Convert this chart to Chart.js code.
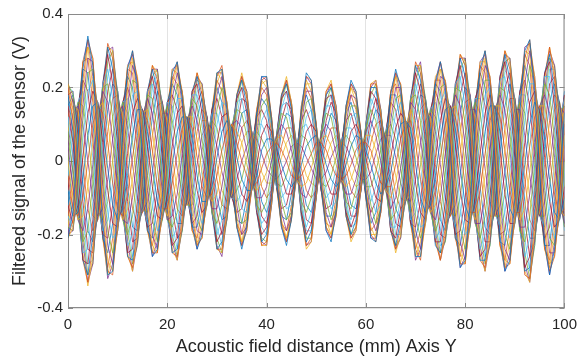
<!DOCTYPE html>
<html>
<head>
<meta charset="utf-8">
<script src="https://cdn.jsdelivr.net/npm/chart.js@4.4.1/dist/chart.umd.min.js"></script>
<style>
  html, body { margin: 0; padding: 0; background: #fff; }
  #wrap { width: 585px; height: 360px; }
</style>
</head>
<body>
<div id="wrap"><canvas id="sensorChart" width="585" height="360"></canvas></div>
<script>
// distance along axis Y (mm)
const distance = [0,1,2,3,4,5,6,7,8,9,10,11,12,13,14,15,16,17,18,19,20,21,22,23,24,25,26,27,28,29,30,31,32,33,34,35,36,37,38,39,40,41,42,43,44,45,46,47,48,49,50,
  51,52,53,54,55,56,57,58,59,60,61,62,63,64,65,66,67,68,69,70,71,72,73,74,75,76,77,78,79,80,81,82,83,84,85,86,87,88,89,90,91,92,93,94,95,96,97,98,99,100];

const xTickLabels = ['0', '20', '40', '60', '80', '100'];
const yTickLabels = ['-0.4', '-0.2', '0', '0.2', '0.4'];

// filtered sensor signal (V), one trace per acquisition
const trace1 = [-.21,-.14,.05,.25,.34,.26,.05,-.17,-.31,-.30,-.14,.07,.25,.30,.20,.02,-.16,-.26,-.24,-.10,.09,.24,.27,.17,-.01,-.17,-.24,-.20,-.07,.11,
  .24,.25,.14,-.03,-.18,-.24,-.18,-.04,.12,.23,.23,.11,-.05,-.18,-.23,-.16,-.02,.14,.24,.22,.09,-.07,-.19,-.22,-.14,.00,.15,.22,.19,.07,
  -.09,-.21,-.22,-.13,.03,.18,.25,.20,.05,-.13,-.26,-.26,-.13,.05,.21,.27,.20,.03,-.17,-.29,-.27,-.12,.09,.25,.30,.20,.00,-.20,-.30,-.27,
  -.10,.13,.30,.33,.19,-.03,-.22,-.31,-.24,-.07,.13];
const trace2 = [-.21,-.18,-.01,.19,.31,.28,.10,-.11,-.27,-.30,-.18,.01,.19,.28,.23,.07,-.11,-.23,-.25,-.14,.04,.20,.26,.19,.04,-.12,-.22,-.21,-.10,.07,
  .21,.25,.16,.01,-.15,-.22,-.19,-.07,.09,.21,.22,.12,-.03,-.16,-.21,-.16,-.04,.12,.21,.21,.10,-.05,-.16,-.20,-.15,-.02,.12,.20,.18,.08,
  -.07,-.18,-.21,-.14,.00,.14,.23,.21,.09,-.08,-.22,-.26,-.17,.00,.17,.25,.22,.09,-.11,-.25,-.28,-.16,.03,.20,.28,.23,.06,-.14,-.27,-.28,
  -.15,.06,.25,.32,.23,.03,-.16,-.28,-.26,-.12,.07];
const trace3 = [-.18,-.19,-.07,.11,.24,.25,.14,-.03,-.19,-.25,-.19,-.05,.11,.22,.21,.11,-.04,-.16,-.22,-.16,-.03,.13,.21,.19,.08,-.06,-.16,-.19,-.12,.02,
  .14,.20,.16,.05,-.09,-.17,-.16,-.08,.04,.15,.17,.11,.00,-.11,-.16,-.14,-.05,.07,.16,.17,.10,-.02,-.11,-.16,-.13,-.03,.08,.15,.15,.08,
  -.03,-.12,-.17,-.13,-.03,.08,.17,.18,.11,-.01,-.15,-.21,-.17,-.05,.09,.20,.21,.13,-.03,-.18,-.24,-.18,-.04,.12,.22,.22,.11,-.06,-.20,-.24,
  -.17,-.01,.16,.26,.22,.09,-.08,-.21,-.23,-.15,.00];
const trace4 = [-.12,-.17,-.12,.01,.13,.19,.16,.05,-.08,-.17,-.18,-.11,.02,.13,.17,.14,.04,-.07,-.15,-.16,-.09,.04,.13,.15,.11,.02,-.08,-.14,-.12,-.04,
  .05,.12,.13,.08,-.03,-.09,-.11,-.08,-.01,.07,.10,.08,.03,-.04,-.09,-.09,-.05,.02,.08,.10,.08,.02,-.05,-.09,-.09,-.05,.02,.08,.10,.07,
  .01,-.05,-.10,-.11,-.06,.01,.09,.13,.11,.06,-.06,-.14,-.16,-.10,.01,.11,.17,.15,.05,-.08,-.16,-.17,-.10,.02,.13,.18,.14,.03,-.09,-.17,
  -.17,-.08,.05,.16,.19,.13,.01,-.11,-.18,-.16,-.07];
const trace5 = [-.04,-.13,-.15,-.10,.00,.10,.15,.13,.05,-.06,-.13,-.15,-.09,.01,.10,.14,.11,.03,-.07,-.13,-.13,-.06,.02,.09,.12,.09,.01,-.07,-.10,-.09,
  -.04,.03,.08,.10,.05,.00,-.04,-.07,-.06,-.02,.02,.04,.05,.03,.00,-.04,-.05,-.04,-.01,.02,.05,.05,.03,-.01,-.04,-.05,-.04,-.01,.03,.05,
  .05,.03,-.02,-.06,-.07,-.07,-.01,.06,.10,.11,.05,-.05,-.11,-.13,-.08,.01,.10,.15,.12,.04,-.07,-.14,-.14,-.08,.02,.11,.15,.12,.03,-.08,
  -.14,-.14,-.07,.04,.12,.15,.11,.01,-.09,-.15,-.13];
const trace6 = [.04,-.07,-.16,-.19,-.13,-.01,.12,.19,.16,.06,-.07,-.16,-.17,-.10,.02,.12,.17,.13,.03,-.08,-.16,-.15,-.09,.02,.11,.15,.11,.02,-.06,-.13,
  -.13,-.07,.02,.10,.11,.09,.03,-.05,-.10,-.10,-.07,.00,.07,.10,.08,.03,-.04,-.09,-.10,-.06,.01,.07,.10,.08,.02,-.05,-.09,-.09,-.05,.02,
  .08,.11,.07,.00,-.08,-.13,-.10,-.02,.07,.16,.14,.06,-.05,-.14,-.16,-.10,.02,.13,.18,.15,.04,-.08,-.17,-.17,-.10,.03,.14,.18,.14,.03,
  -.09,-.18,-.18,-.09,.04,.15,.18,.13,.01,-.11,-.17];
const trace7 = [.12,.01,-.14,-.25,-.24,-.11,.07,.21,.25,.17,.00,-.15,-.23,-.20,-.07,.09,.19,.21,.12,-.02,-.16,-.21,-.18,-.05,.09,.18,.18,.10,-.02,-.14,
  -.20,-.16,-.04,.09,.16,.17,.10,-.02,-.13,-.17,-.15,-.05,.07,.15,.16,.09,-.02,-.13,-.18,-.14,-.03,.08,.15,.15,.07,-.04,-.13,-.16,-.11,-.01,
  .10,.17,.14,.05,-.07,-.18,-.18,-.10,.03,.17,.21,.15,.01,-.13,-.21,-.19,-.07,.08,.21,.23,.15,-.01,-.16,-.24,-.20,-.06,.10,.22,.23,.13,
  -.03,-.19,-.26,-.21,-.05,.12,.23,.23,.11,-.06,-.19];
const trace8 = [.18,.08,-.10,-.27,-.31,-.20,.01,.21,.31,.25,.08,-.12,-.26,-.27,-.15,.04,.19,.25,.19,.04,-.14,-.25,-.24,-.12,.05,.19,.23,.16,.03,-.14,
  -.24,-.22,-.10,.07,.18,.22,.15,.01,-.14,-.22,-.20,-.09,.07,.18,.21,.14,.00,-.15,-.22,-.19,-.07,.08,.18,.20,.12,-.02,-.15,-.20,-.16,-.04,
  .10,.20,.20,.10,-.05,-.19,-.23,-.16,-.01,.17,.26,.22,.08,-.10,-.23,-.25,-.15,.03,.20,.28,.23,.06,-.14,-.27,-.27,-.14,.05,.23,.29,.22,
  .04,-.17,-.30,-.29,-.13,.08,.24,.29,.19,.00,-.17];
const trace9 = [.21,.14,-.05,-.25,-.34,-.26,-.05,.17,.31,.30,.14,-.07,-.25,-.30,-.20,-.02,.16,.26,.24,.10,-.09,-.24,-.27,-.17,.01,.17,.24,.20,.07,-.11,
  -.24,-.25,-.14,.03,.18,.24,.18,.04,-.12,-.23,-.23,-.11,.05,.18,.23,.16,.02,-.14,-.24,-.22,-.09,.07,.19,.22,.14,.00,-.15,-.22,-.19,-.07,
  .09,.21,.22,.13,-.03,-.18,-.25,-.20,-.05,.13,.26,.26,.13,-.05,-.21,-.27,-.20,-.03,.17,.29,.27,.12,-.09,-.25,-.30,-.20,.00,.20,.30,.27,
  .10,-.13,-.30,-.33,-.19,.03,.22,.31,.24,.07,-.13];
const trace10 = [.21,.18,.01,-.19,-.31,-.28,-.10,.11,.27,.30,.18,-.01,-.19,-.28,-.23,-.07,.11,.23,.25,.14,-.04,-.20,-.26,-.19,-.04,.12,.22,.21,.10,-.07,
  -.21,-.25,-.16,-.01,.15,.22,.19,.07,-.09,-.21,-.22,-.12,.03,.16,.21,.16,.04,-.12,-.21,-.21,-.10,.05,.16,.20,.15,.02,-.12,-.20,-.18,-.08,
  .07,.18,.21,.14,.00,-.14,-.23,-.21,-.09,.08,.22,.26,.17,.00,-.17,-.25,-.22,-.09,.11,.25,.28,.16,-.03,-.20,-.28,-.23,-.06,.14,.27,.28,
  .15,-.06,-.25,-.32,-.23,-.03,.16,.28,.26,.12,-.07];
const trace11 = [.18,.19,.07,-.11,-.24,-.25,-.14,.03,.19,.25,.19,.05,-.11,-.22,-.21,-.11,.04,.16,.22,.16,.03,-.13,-.21,-.19,-.08,.06,.16,.19,.12,-.02,
  -.14,-.20,-.16,-.05,.09,.17,.16,.08,-.04,-.15,-.17,-.11,.00,.11,.16,.14,.05,-.07,-.16,-.17,-.10,.02,.11,.16,.13,.03,-.08,-.15,-.15,-.08,
  .03,.12,.17,.13,.03,-.08,-.17,-.18,-.11,.01,.15,.21,.17,.05,-.09,-.20,-.21,-.13,.03,.18,.24,.18,.04,-.12,-.22,-.22,-.11,.06,.20,.24,
  .17,.01,-.16,-.26,-.22,-.09,.08,.21,.23,.15,.00];
const trace12 = [.12,.17,.12,-.01,-.13,-.19,-.16,-.05,.08,.17,.18,.11,-.02,-.13,-.17,-.14,-.04,.07,.15,.16,.09,-.04,-.13,-.15,-.11,-.02,.08,.14,.12,.04,
  -.05,-.12,-.13,-.08,.03,.09,.11,.08,.01,-.07,-.10,-.08,-.03,.04,.09,.09,.05,-.02,-.08,-.10,-.08,-.02,.05,.09,.09,.05,-.02,-.08,-.10,-.07,
  -.01,.05,.10,.11,.06,-.01,-.09,-.13,-.11,-.06,.06,.14,.16,.10,-.01,-.11,-.17,-.15,-.05,.08,.16,.17,.10,-.02,-.13,-.18,-.14,-.03,.09,.17,
  .17,.08,-.05,-.16,-.19,-.13,-.01,.11,.18,.16,.07];
const trace13 = [.04,.13,.15,.10,.00,-.10,-.15,-.13,-.05,.06,.13,.15,.09,-.01,-.10,-.14,-.11,-.03,.07,.13,.13,.06,-.02,-.09,-.12,-.09,-.01,.07,.10,.09,
  .04,-.03,-.08,-.10,-.05,.00,.04,.07,.06,.02,-.02,-.04,-.05,-.03,.00,.04,.05,.04,.01,-.02,-.05,-.05,-.03,.01,.04,.05,.04,.01,-.03,-.05,
  -.05,-.03,.02,.06,.07,.07,.01,-.06,-.10,-.11,-.05,.05,.11,.13,.08,-.01,-.10,-.15,-.12,-.04,.07,.14,.14,.08,-.02,-.11,-.15,-.12,-.03,.08,
  .14,.14,.07,-.04,-.12,-.15,-.11,-.01,.09,.15,.13];
const trace14 = [-.04,.07,.16,.19,.13,.01,-.12,-.19,-.16,-.06,.07,.16,.17,.10,-.02,-.12,-.17,-.13,-.03,.08,.16,.15,.09,-.02,-.11,-.15,-.11,-.02,.06,.13,
  .13,.07,-.02,-.10,-.11,-.09,-.03,.05,.10,.10,.07,.00,-.07,-.10,-.08,-.03,.04,.09,.10,.06,-.01,-.07,-.10,-.08,-.02,.05,.09,.09,.05,-.02,
  -.08,-.11,-.07,.00,.08,.13,.10,.02,-.07,-.16,-.14,-.06,.05,.14,.16,.10,-.02,-.13,-.18,-.15,-.04,.08,.17,.17,.10,-.03,-.14,-.18,-.14,-.03,
  .09,.18,.18,.09,-.04,-.15,-.18,-.13,-.01,.11,.17];
const trace15 = [-.12,-.01,.14,.25,.24,.11,-.07,-.21,-.25,-.17,.00,.15,.23,.20,.07,-.09,-.19,-.21,-.12,.02,.16,.21,.18,.05,-.09,-.18,-.18,-.10,.02,.14,
  .20,.16,.04,-.09,-.16,-.17,-.10,.02,.13,.17,.15,.05,-.07,-.15,-.16,-.09,.02,.13,.18,.14,.03,-.08,-.15,-.15,-.07,.04,.13,.16,.11,.01,
  -.10,-.17,-.14,-.05,.07,.18,.18,.10,-.03,-.17,-.21,-.15,-.01,.13,.21,.19,.07,-.08,-.21,-.23,-.15,.01,.16,.24,.20,.06,-.10,-.22,-.23,-.13,
  .03,.19,.26,.21,.05,-.12,-.23,-.23,-.11,.06,.19];
const trace16 = [-.18,-.08,.10,.27,.31,.20,-.01,-.21,-.31,-.25,-.08,.12,.26,.27,.15,-.04,-.19,-.25,-.19,-.04,.14,.25,.24,.12,-.05,-.19,-.23,-.16,-.03,.14,
  .24,.22,.10,-.07,-.18,-.22,-.15,-.01,.14,.22,.20,.09,-.07,-.18,-.21,-.14,.00,.15,.22,.19,.07,-.08,-.18,-.20,-.12,.02,.15,.20,.16,.04,
  -.10,-.20,-.20,-.10,.05,.19,.23,.16,.01,-.17,-.26,-.22,-.08,.10,.23,.25,.15,-.03,-.20,-.28,-.23,-.06,.14,.27,.27,.14,-.05,-.23,-.29,-.22,
  -.04,.17,.30,.29,.13,-.08,-.24,-.29,-.19,.00,.17];
const trace17 = [-.21,-.16,.02,.22,.33,.28,.08,-.14,-.30,-.31,-.16,.04,.22,.30,.22,.05,-.14,-.25,-.25,-.12,.07,.22,.27,.18,.02,-.15,-.23,-.21,-.09,.09,
  .23,.26,.15,-.01,-.17,-.23,-.19,-.06,.11,.22,.23,.12,-.04,-.17,-.22,-.16,-.03,.13,.23,.22,.10,-.06,-.18,-.21,-.15,-.01,.14,.21,.19,.08,
  -.08,-.20,-.22,-.14,.02,.16,.24,.21,.07,-.11,-.24,-.27,-.15,.03,.19,.27,.21,.06,-.14,-.28,-.28,-.14,.06,.23,.30,.22,.03,-.17,-.29,-.28,
  -.13,.10,.28,.33,.21,.00,-.19,-.30,-.26,-.10,.10];
const trace18 = [-.20,-.19,-.04,.15,.28,.27,.12,-.07,-.23,-.28,-.19,-.02,.15,.26,.22,.09,-.08,-.20,-.24,-.15,.01,.17,.24,.19,.06,-.09,-.19,-.20,-.11,.05,
  .18,.23,.16,.03,-.12,-.20,-.18,-.08,.07,.18,.20,.12,-.02,-.14,-.19,-.15,-.05,.10,.19,.19,.10,-.04,-.14,-.18,-.14,-.03,.10,.18,.17,.08,
  -.05,-.15,-.19,-.14,-.02,.11,.20,.20,.10,-.05,-.19,-.24,-.17,-.03,.13,.23,.22,.11,-.07,-.22,-.27,-.17,-.01,.16,.26,.23,.09,-.10,-.24,-.27,
  -.16,.03,.21,.30,.23,.06,-.12,-.25,-.25,-.14,.04];
const trace19 = [-.15,-.18,-.10,.06,.19,.22,.15,.01,-.14,-.21,-.19,-.08,.07,.18,.19,.13,.00,-.12,-.19,-.16,-.06,.09,.17,.17,.10,-.02,-.12,-.17,-.12,-.01,
  .10,.16,.15,.07,-.06,-.13,-.14,-.08,.02,.11,.14,.10,.02,-.08,-.13,-.12,-.05,.05,.12,.14,.09,.00,-.08,-.13,-.11,-.04,.05,.12,.13,.08,
  -.01,-.09,-.14,-.12,-.05,.05,.13,.16,.11,.03,-.11,-.18,-.17,-.08,.05,.16,.19,.14,.01,-.13,-.20,-.18,-.07,.07,.18,.20,.13,-.02,-.15,-.21,
  -.17,-.05,.11,.21,.21,.11,-.04,-.16,-.21,-.16,-.04];
const trace20 = [-.08,-.15,-.14,-.05,.07,.15,.16,.09,-.02,-.12,-.16,-.13,-.04,.07,.14,.14,.08,-.02,-.11,-.15,-.11,-.01,.08,.12,.12,.06,-.04,-.11,-.11,-.07,
  .01,.08,.11,.09,.01,-.05,-.08,-.08,-.04,.03,.06,.06,.04,-.01,-.05,-.07,-.05,-.01,.04,.06,.07,.04,-.01,-.05,-.07,-.05,-.01,.04,.07,.06,
  .03,-.01,-.06,-.09,-.07,-.03,.04,.10,.11,.09,-.01,-.10,-.14,-.12,-.04,.06,.14,.15,.09,-.02,-.12,-.16,-.12,-.03,.08,.15,.15,.08,-.03,-.13,
  -.16,-.11,-.01,.10,.16,.14,.06,-.05,-.14,-.16,-.10];
const trace21 = [.00,-.10,-.16,-.15,-.07,.05,.14,.16,.11,.00,-.10,-.16,-.13,-.05,.06,.13,.14,.08,-.02,-.11,-.15,-.11,-.04,.06,.12,.12,.06,-.03,-.08,-.11,
  -.09,-.02,.05,.10,.08,.05,-.01,-.06,-.08,-.06,-.03,.02,.06,.07,.04,-.01,-.05,-.07,-.06,-.02,.03,.06,.07,.04,-.01,-.05,-.07,-.05,-.01,.04,
  .07,.07,.03,-.03,-.08,-.10,-.06,.02,.09,.14,.10,.01,-.08,-.14,-.12,-.05,.06,.14,.15,.10,-.02,-.11,-.16,-.13,-.04,.07,.15,.15,.09,-.03,
  -.12,-.16,-.13,-.03,.08,.15,.15,.07,-.04,-.13,-.15];
const trace22 = [.08,-.03,-.15,-.22,-.19,-.06,.10,.20,.21,.12,-.04,-.16,-.20,-.15,-.03,.11,.18,.17,.08,-.05,-.16,-.18,-.14,-.02,.10,.17,.15,.06,-.04,-.14,
  -.17,-.12,-.01,.10,.14,.13,.07,-.04,-.12,-.14,-.11,-.03,.07,.13,.12,.06,-.03,-.11,-.14,-.10,-.01,.08,.13,.12,.05,-.05,-.11,-.13,-.08,.01,
  .09,.14,.11,.03,-.08,-.16,-.14,-.06,.05,.17,.18,.11,-.02,-.14,-.19,-.15,-.03,.11,.20,.19,.10,-.05,-.17,-.21,-.15,-.02,.12,.20,.19,.08,
  -.06,-.19,-.22,-.15,-.01,.14,.21,.18,.06,-.09,-.18];
const trace23 = [.15,.05,-.12,-.27,-.28,-.16,.04,.21,.29,.21,.04,-.14,-.25,-.24,-.11,.07,.19,.23,.16,.01,-.15,-.23,-.21,-.09,.07,.19,.21,.13,.01,-.14,
  -.22,-.19,-.07,.08,.17,.20,.13,-.01,-.14,-.20,-.18,-.07,.07,.17,.19,.12,-.01,-.14,-.20,-.17,-.05,.08,.17,.18,.10,-.03,-.14,-.18,-.14,-.03,
  .10,.19,.17,.08,-.06,-.19,-.21,-.13,.01,.17,.24,.19,.05,-.12,-.22,-.22,-.11,.06,.21,.26,.19,.03,-.15,-.26,-.24,-.10,.08,.23,.27,.18,
  .01,-.18,-.29,-.26,-.09,.10,.24,.27,.15,-.03,-.18];
const trace24 = [.20,.11,-.08,-.27,-.33,-.23,-.02,.19,.32,.28,.11,-.10,-.26,-.29,-.18,.01,.18,.26,.22,.07,-.12,-.25,-.26,-.15,.03,.18,.24,.18,.05,-.13,
  -.24,-.24,-.12,.05,.18,.23,.17,.03,-.13,-.23,-.22,-.10,.06,.18,.22,.15,.01,-.15,-.23,-.21,-.08,.08,.19,.21,.13,-.01,-.15,-.21,-.18,-.06,
  .10,.21,.21,.12,-.04,-.19,-.24,-.18,-.03,.15,.27,.24,.11,-.08,-.22,-.27,-.18,.00,.19,.29,.26,.09,-.12,-.27,-.29,-.17,.03,.22,.30,.25,
  .07,-.15,-.31,-.32,-.16,.06,.23,.31,.22,.04,-.15];
const trace25 = [.21,.16,-.02,-.22,-.33,-.28,-.08,.14,.30,.31,.16,-.04,-.22,-.30,-.22,-.05,.14,.25,.25,.12,-.07,-.22,-.27,-.18,-.02,.15,.23,.21,.09,-.09,
  -.23,-.26,-.15,.01,.17,.23,.19,.06,-.11,-.22,-.23,-.12,.04,.17,.22,.16,.03,-.13,-.23,-.22,-.10,.06,.18,.21,.15,.01,-.14,-.21,-.19,-.08,
  .08,.20,.22,.14,-.02,-.16,-.24,-.21,-.07,.11,.24,.27,.15,-.03,-.19,-.27,-.21,-.06,.14,.28,.28,.14,-.06,-.23,-.30,-.22,-.03,.17,.29,.28,
  .13,-.10,-.28,-.33,-.21,.00,.19,.30,.26,.10,-.10];
const trace26 = [.20,.19,.04,-.15,-.28,-.27,-.12,.07,.23,.28,.19,.02,-.15,-.26,-.22,-.09,.08,.20,.24,.15,-.01,-.17,-.24,-.19,-.06,.09,.19,.20,.11,-.05,
  -.18,-.23,-.16,-.03,.12,.20,.18,.08,-.07,-.18,-.20,-.12,.02,.14,.19,.15,.05,-.10,-.19,-.19,-.10,.04,.14,.18,.14,.03,-.10,-.18,-.17,-.08,
  .05,.15,.19,.14,.02,-.11,-.20,-.20,-.10,.05,.19,.24,.17,.03,-.13,-.23,-.22,-.11,.07,.22,.27,.17,.01,-.16,-.26,-.23,-.09,.10,.24,.27,
  .16,-.03,-.21,-.30,-.23,-.06,.12,.25,.25,.14,-.04];
const trace27 = [.15,.18,.10,-.06,-.19,-.22,-.15,-.01,.14,.21,.19,.08,-.07,-.18,-.19,-.13,.00,.12,.19,.16,.06,-.09,-.17,-.17,-.10,.02,.12,.17,.12,.01,
  -.10,-.16,-.15,-.07,.06,.13,.14,.08,-.02,-.11,-.14,-.10,-.02,.08,.13,.12,.05,-.05,-.12,-.14,-.09,.00,.08,.13,.11,.04,-.05,-.12,-.13,-.08,
  .01,.09,.14,.12,.05,-.05,-.13,-.16,-.11,-.03,.11,.18,.17,.08,-.05,-.16,-.19,-.14,-.01,.13,.20,.18,.07,-.07,-.18,-.20,-.13,.02,.15,.21,
  .17,.05,-.11,-.21,-.21,-.11,.04,.16,.21,.16,.04];
const trace28 = [.08,.15,.14,.05,-.07,-.15,-.16,-.09,.02,.12,.16,.13,.04,-.07,-.14,-.14,-.08,.02,.11,.15,.11,.01,-.08,-.12,-.12,-.06,.04,.11,.11,.07,
  -.01,-.08,-.11,-.09,-.01,.05,.08,.08,.04,-.03,-.06,-.06,-.04,.01,.05,.07,.05,.01,-.04,-.06,-.07,-.04,.01,.05,.07,.05,.01,-.04,-.07,-.06,
  -.03,.01,.06,.09,.07,.03,-.04,-.10,-.11,-.09,.01,.10,.14,.12,.04,-.06,-.14,-.15,-.09,.02,.12,.16,.12,.03,-.08,-.15,-.15,-.08,.03,.13,
  .16,.11,.01,-.10,-.16,-.14,-.06,.05,.14,.16,.10];
const trace29 = [.00,.10,.16,.15,.07,-.05,-.14,-.16,-.11,.00,.10,.16,.13,.05,-.06,-.13,-.14,-.08,.02,.11,.15,.11,.04,-.06,-.12,-.12,-.06,.03,.08,.11,
  .09,.02,-.05,-.10,-.08,-.05,.01,.06,.08,.06,.03,-.02,-.06,-.07,-.04,.01,.05,.07,.06,.02,-.03,-.06,-.07,-.04,.01,.05,.07,.05,.01,-.04,
  -.07,-.07,-.03,.03,.08,.10,.06,-.02,-.09,-.14,-.10,-.01,.08,.14,.12,.05,-.06,-.14,-.15,-.10,.02,.11,.16,.13,.04,-.07,-.15,-.15,-.09,.03,
  .12,.16,.13,.03,-.08,-.15,-.15,-.07,.04,.13,.15];
const trace30 = [-.08,.03,.15,.22,.19,.06,-.10,-.20,-.21,-.12,.04,.16,.20,.15,.03,-.11,-.18,-.17,-.08,.05,.16,.18,.14,.02,-.10,-.17,-.15,-.06,.04,.14,
  .17,.12,.01,-.10,-.14,-.13,-.07,.04,.12,.14,.11,.03,-.07,-.13,-.12,-.06,.03,.11,.14,.10,.01,-.08,-.13,-.12,-.05,.05,.11,.13,.08,-.01,
  -.09,-.14,-.11,-.03,.08,.16,.14,.06,-.05,-.17,-.18,-.11,.02,.14,.19,.15,.03,-.11,-.20,-.19,-.10,.05,.17,.21,.15,.02,-.12,-.20,-.19,-.08,
  .06,.19,.22,.15,.01,-.14,-.21,-.18,-.06,.09,.18];
const trace31 = [-.15,-.05,.12,.27,.28,.16,-.04,-.21,-.29,-.21,-.04,.14,.25,.24,.11,-.07,-.19,-.23,-.16,-.01,.15,.23,.21,.09,-.07,-.19,-.21,-.13,-.01,.14,
  .22,.19,.07,-.08,-.17,-.20,-.13,.01,.14,.20,.18,.07,-.07,-.17,-.19,-.12,.01,.14,.20,.17,.05,-.08,-.17,-.18,-.10,.03,.14,.18,.14,.03,
  -.10,-.19,-.17,-.08,.06,.19,.21,.13,-.01,-.17,-.24,-.19,-.05,.12,.22,.22,.11,-.06,-.21,-.26,-.19,-.03,.15,.26,.24,.10,-.08,-.23,-.27,-.18,
  -.01,.18,.29,.26,.09,-.10,-.24,-.27,-.15,.03,.18];
const trace32 = [-.20,-.11,.08,.27,.33,.23,.02,-.19,-.32,-.28,-.11,.10,.26,.29,.18,-.01,-.18,-.26,-.22,-.07,.12,.25,.26,.15,-.03,-.18,-.24,-.18,-.05,.13,
  .24,.24,.12,-.05,-.18,-.23,-.17,-.03,.13,.23,.22,.10,-.06,-.18,-.22,-.15,-.01,.15,.23,.21,.08,-.08,-.19,-.21,-.13,.01,.15,.21,.18,.06,
  -.10,-.21,-.21,-.12,.04,.19,.24,.18,.03,-.15,-.27,-.24,-.11,.08,.22,.27,.18,.00,-.19,-.29,-.26,-.09,.12,.27,.29,.17,-.03,-.22,-.30,-.25,
  -.07,.15,.31,.32,.16,-.06,-.23,-.31,-.22,-.04,.15];

const traces = [trace1, trace17, trace2, trace18, trace3, trace19, trace4, trace20,
  trace5, trace21, trace6, trace22, trace7, trace23, trace8, trace24,
  trace9, trace25, trace10, trace26, trace11, trace27, trace12, trace28,
  trace13, trace29, trace14, trace30, trace15, trace31, trace16, trace32];

// MATLAB default line colour order
const lineColors = ['#0072BD', '#D95319', '#EDB120', '#7E2F8E', '#77AC30', '#4DBEEE', '#A2142F'];

const fontFamily = "'Liberation Sans', Arial, Helvetica, sans-serif";
const textColor = '#262626';

// box around the axes with inward tick marks (MATLAB "box on")
const axesBox = {
    id: 'axesBox',
    beforeDatasetsDraw(chart) {
        const { ctx, chartArea: a, scales: { x, y } } = chart;
        ctx.save();
        ctx.strokeStyle = '#8a8a8a';
        ctx.lineWidth = 1;
        ctx.strokeRect(a.left + 0.5, a.top + 0.5, a.right - a.left - 1, a.bottom - a.top - 1);
        ctx.beginPath();
        x.ticks.forEach(t => {
            const px = Math.round(x.getPixelForValue(t.value)) + 0.5;
            ctx.moveTo(px, a.bottom); ctx.lineTo(px, a.bottom - 5);
            ctx.moveTo(px, a.top); ctx.lineTo(px, a.top + 5);
        });
        y.ticks.forEach(t => {
            const py = Math.round(y.getPixelForValue(t.value)) + 0.5;
            ctx.moveTo(a.left, py); ctx.lineTo(a.left + 5, py);
            ctx.moveTo(a.right, py); ctx.lineTo(a.right - 5, py);
        });
        ctx.stroke();
        ctx.restore();
    }
};

const ctx = document.getElementById('sensorChart').getContext('2d');
new Chart(ctx, {
    type: 'line',
    data: {
        datasets: traces.map((trace, i) => ({
            label: 'Trace ' + (i + 1),
            data: trace.map((v, j) => ({ x: distance[j], y: v })),
            borderColor: lineColors[i % lineColors.length],
            borderWidth: 0.75,
            pointRadius: 0,
            fill: false,
            tension: 0
        }))
    },
    options: {
        responsive: false,
        animation: false,
        events: [],
        devicePixelRatio: 1,
        layout: { padding: { left: 0, right: 14, top: 14, bottom: 0 } },
        plugins: {
            legend: { display: false },
            tooltip: { enabled: false }
        },
        scales: {
            x: {
                type: 'linear',
                min: 0,
                max: 100,
                ticks: {
                    stepSize: 20,
                    maxRotation: 0,
                    padding: 8,
                    color: textColor,
                    font: { family: fontFamily, size: 15 },
                    callback: (v, i) => xTickLabels[i]
                },
                grid: { color: 'rgba(38,38,38,0.13)', drawTicks: false },
                border: { display: false },
                title: {
                    display: true,
                    text: 'Acoustic field distance (mm) Axis Y',
                    color: textColor,
                    font: { family: fontFamily, size: 18 },
                    padding: { top: 0, bottom: 2 }
                },
                afterFit: scale => { scale.height = 52; }
            },
            y: {
                min: -0.4,
                max: 0.4,
                ticks: {
                    stepSize: 0.2,
                    padding: 5,
                    color: textColor,
                    font: { family: fontFamily, size: 15 },
                    callback: (v, i) => yTickLabels[i]
                },
                grid: { color: 'rgba(38,38,38,0.13)', drawTicks: false },
                border: { display: false },
                title: {
                    display: true,
                    text: 'Filtered signal of the sensor (V)',
                    color: textColor,
                    font: { family: fontFamily, size: 18 },
                    padding: { top: 9, bottom: 0 }
                },
                afterFit: scale => { scale.width = 68; }
            }
        }
    },
    plugins: [axesBox]
});
</script>
</body>
</html>
